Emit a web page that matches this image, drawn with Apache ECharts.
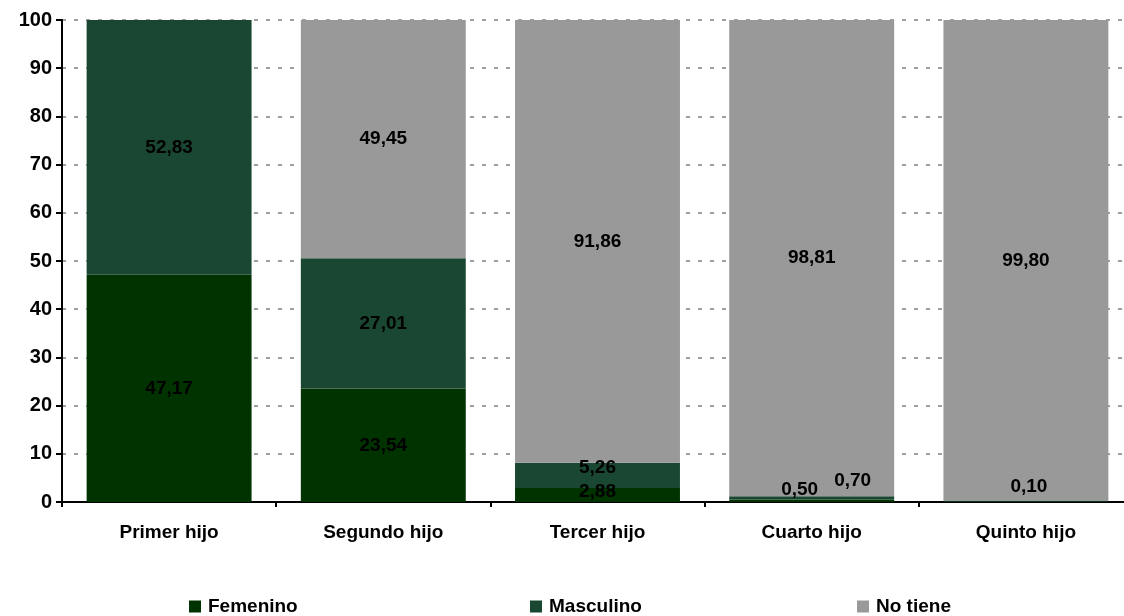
<!DOCTYPE html>
<html>
<head>
<meta charset="utf-8">
<script src="https://cdn.jsdelivr.net/npm/echarts@6/dist/echarts.min.js"></script>
<style>
html,body{margin:0;padding:0;background:#fff;overflow:hidden;width:1124px;height:616px;}
#chart{width:1140px;height:616px;}
</style>
</head>
<body>
<div id="chart"></div>
<script>
const categories = ['Primer hijo', 'Segundo hijo', 'Tercer hijo', 'Cuarto hijo', 'Quinto hijo'];
const femenino = [47.17, 23.54, 2.88, 0.50, 0.10];
const masculino = [52.83, 27.01, 5.26, 0.70, 0.10];
const noTiene = [0, 49.45, 91.86, 98.81, 99.80];
const yTicks = [0, 10, 20, 30, 40, 50, 60, 70, 80, 90, 100];

// label placement tweaks (styling, kept apart from data)
const labelOffsets = {
  'Femenino': [null, null, [0, -3], [-12, -11], [3, -15]],
  'Masculino': [null, null, [0, -8], [41, -17], null],
  'No tiene': [null, null, null, null, null]
};
const hiddenLabels = { 'Masculino': [4] };

const colors = { 'Femenino': '#003300', 'Masculino': '#1a4731', 'No tiene': '#999999' };
const fontFam = '"Liberation Sans", Arial, sans-serif';

function buildData(name, arr) {
  return arr.map((v, i) => {
    const item = { value: v };
    const hide = v === 0 || (hiddenLabels[name] && hiddenLabels[name].includes(i));
    const off = labelOffsets[name][i];
    item.label = { show: !hide };
    if (off) item.label.offset = off;
    return item;
  });
}

function mkSeries(name, arr) {
  return {
    name: name,
    type: 'bar',
    stack: 'total',
    barCategoryGap: '23%',
    itemStyle: { color: colors[name] },
    label: {
      show: true,
      position: 'inside',
      color: '#000',
      fontFamily: fontFam,
      fontWeight: 'bold',
      fontSize: 19,
      formatter: p => p.value.toFixed(2).replace('.', ',')
    },
    data: buildData(name, arr)
  };
}

const chart = echarts.init(document.getElementById('chart'), null, { renderer: 'canvas' });
const legendBase = {
  orient: 'horizontal',
  top: 592,
  icon: 'rect',
  itemWidth: 12,
  itemHeight: 12,
  itemGap: 5,
  textStyle: { fontFamily: fontFam, fontWeight: 'bold', fontSize: 19, color: '#000', padding: [0, 0, 0, 2] },
  selectedMode: false
};
chart.setOption({
  animation: false,
  backgroundColor: '#fff',
  grid: { left: 62, right: 7, top: 20, bottom: 114, containLabel: false },
  legend: [
    Object.assign({}, legendBase, { left: 184, data: ['Femenino'] }),
    Object.assign({}, legendBase, { left: 525, data: ['Masculino'] }),
    Object.assign({}, legendBase, { left: 852, data: ['No tiene'] })
  ],
  xAxis: {
    type: 'category',
    data: categories,
    boundaryGap: true,
    axisLine: { lineStyle: { color: '#000', width: 2 } },
    axisTick: { show: true, length: 5, lineStyle: { color: '#000', width: 2 } },
    axisLabel: { color: '#000', fontFamily: fontFam, fontWeight: 'bold', fontSize: 19, margin: 21 }
  },
  yAxis: {
    type: 'value',
    min: yTicks[0],
    max: yTicks[yTicks.length - 1],
    interval: yTicks[1] - yTicks[0],
    axisLine: { show: true, lineStyle: { color: '#000', width: 2 } },
    axisTick: { show: true, length: 6, inside: false, lineStyle: { color: '#000', width: 2 } },
    axisLabel: { color: '#000', fontFamily: fontFam, fontWeight: 'bold', fontSize: 20, margin: 10 },
    splitLine: { show: true, lineStyle: { color: '#808080', width: 1.5, type: [4, 8] } }
  },
  series: [
    mkSeries('Femenino', femenino),
    mkSeries('Masculino', masculino),
    mkSeries('No tiene', noTiene)
  ]
});
</script>
</body>
</html>
